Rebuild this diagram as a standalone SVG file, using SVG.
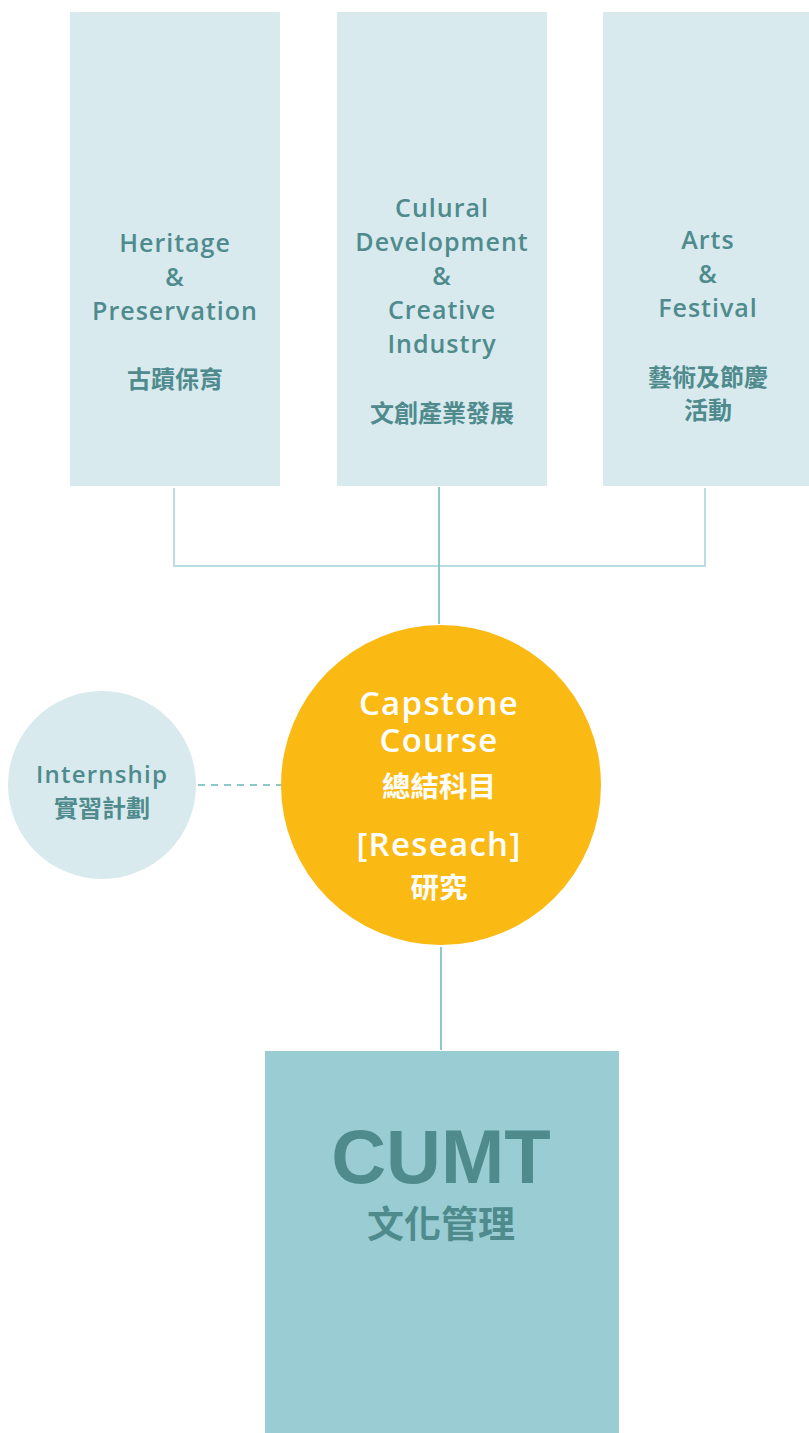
<svg xmlns="http://www.w3.org/2000/svg" width="809" height="1433" viewBox="0 0 809 1433">
<style>
.box{fill:#d8eaee}
.t{font-family:"Open Sans","Noto Sans CJK TC",sans-serif;font-weight:600;fill:#4f8b8d;text-anchor:middle}
.b{font-size:25px;letter-spacing:1px}
.c{font-family:"Noto Sans CJK TC",sans-serif;font-weight:700;fill:#4f8b8d;text-anchor:middle}
.w{fill:#ffffff}
.cap{font-size:33px;letter-spacing:1.3px}
.ln{fill:none;stroke:#b9dde2;stroke-width:2}
.ln2{fill:none;stroke:#8cc8cc;stroke-width:2}
</style>
<rect width="809" height="1433" fill="#ffffff"/>
<g id="connectors">
<path class="ln" d="M174 488 V566 H705 V488"/>
<line class="ln2" x1="439" y1="487" x2="439" y2="624"/>
<line class="ln2" x1="198" y1="785" x2="282" y2="785" stroke-dasharray="7,6"/>
<line class="ln2" x1="441" y1="947" x2="441" y2="1050"/>
</g>
<g id="heritage">
<rect class="box" x="70" y="12" width="210" height="474"/>
<text class="t b" x="175" y="252">Heritage</text>
<text class="t b" x="175" y="286">&amp;</text>
<text class="t b" x="175" y="320">Preservation</text>
<text class="c" font-size="24" x="175" y="388">古蹟保育</text>
</g>
<g id="cultural">
<rect class="box" x="337" y="12" width="210" height="474"/>
<text class="t b" x="442" y="217">Culural</text>
<text class="t b" x="442" y="251">Development</text>
<text class="t b" x="442" y="285">&amp;</text>
<text class="t b" x="442" y="319">Creative</text>
<text class="t b" x="442" y="353">Industry</text>
<text class="c" font-size="24" x="442" y="422">文創產業發展</text>
</g>
<g id="arts">
<rect class="box" x="603" y="12" width="210" height="474"/>
<text class="t b" x="708" y="249">Arts</text>
<text class="t b" x="708" y="283">&amp;</text>
<text class="t b" x="708" y="317">Festival</text>
<text class="c" font-size="24" x="708" y="386">藝術及節慶</text>
<text class="c" font-size="24" x="708" y="419">活動</text>
</g>
<g id="internship">
<circle cx="102" cy="785" r="94" fill="#d8eaee"/>
<text class="t" font-size="24" letter-spacing="1.2" x="102" y="783">Internship</text>
<text class="c" font-size="24" x="102" y="817">實習計劃</text>
</g>
<g id="capstone">
<circle cx="441" cy="785" r="160" fill="#fbb913"/>
<text class="t w cap" x="439" y="715">Capstone</text>
<text class="t w cap" x="439" y="752">Course</text>
<text class="c w" font-size="28.5" x="439" y="797">總結科目</text>
<text class="t w cap" x="439" y="856">[Reseach]</text>
<text class="c w" font-size="28.5" x="439" y="898">研究</text>
</g>
<g id="cumt">
<rect x="265" y="1051" width="354" height="382" fill="#99cdd3"/>
<text class="t" font-size="76" font-weight="700" x="441" y="1183" style="font-family:'Liberation Sans',sans-serif">CUMT</text>
<text class="c" font-size="37" x="441" y="1238">文化管理</text>
</g>
</svg>
